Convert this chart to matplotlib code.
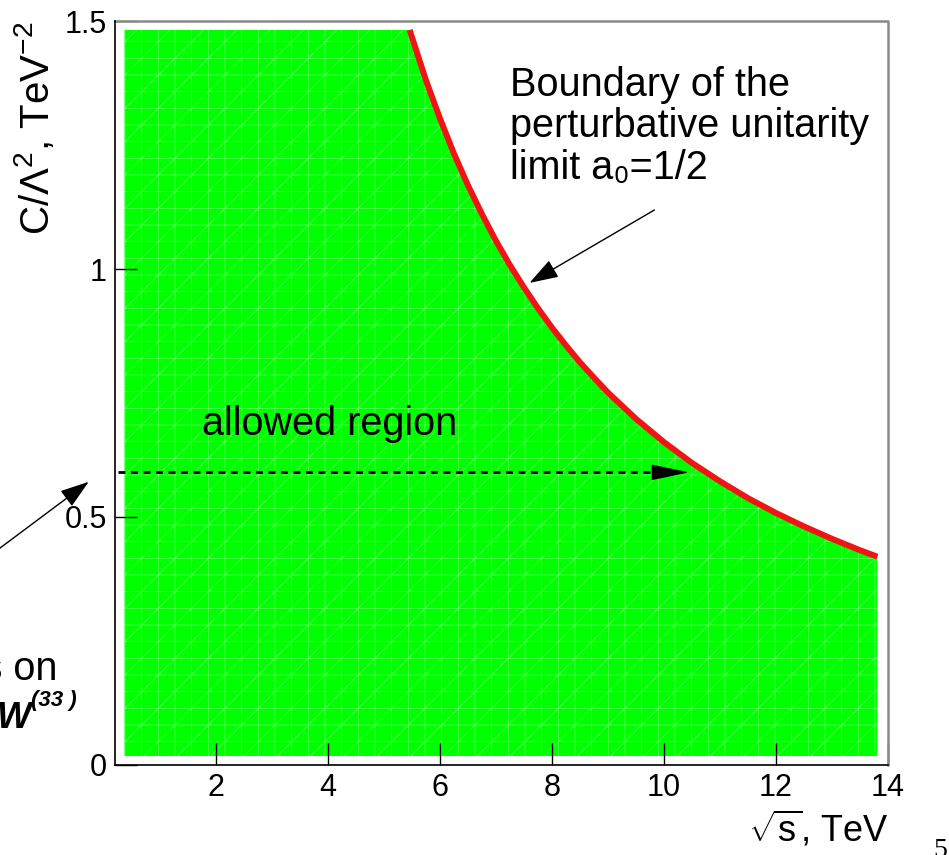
import matplotlib
matplotlib.use("Agg")
import matplotlib.pyplot as plt

plt.rcParams['font.family'] = ['Liberation Sans', 'DejaVu Sans']
plt.rcParams['mathtext.fontset'] = 'custom'
plt.rcParams['mathtext.rm'] = 'Liberation Sans'
plt.rcParams['mathtext.it'] = 'Liberation Sans:italic'
plt.rcParams['mathtext.bf'] = 'Liberation Sans:bold'
plt.rcParams['hatch.linewidth'] = 0.5

# limite de unitariedade perturbativa
sqrt_s = [5.46, 5.75, 6.0, 6.25, 6.5, 6.75, 7.0, 7.25, 7.5, 7.75, 8.0, 8.25,
          8.5, 8.75, 9.0, 9.5, 10.0, 10.5, 11.0, 11.5, 12.0, 12.5, 13.0,
          13.5, 13.81]
c_limite = [1.482, 1.381, 1.304, 1.233, 1.169, 1.111, 1.057, 1.008, 0.963,
            0.921, 0.882, 0.846, 0.812, 0.781, 0.751, 0.698, 0.651, 0.609,
            0.572, 0.538, 0.508, 0.481, 0.456, 0.433, 0.42]

# regiao permitida
x_min_regiao = 0.37
y_min_regiao = 0.018
y_max_regiao = 1.482

# seta tracejada (inicio, base da ponta, ponta)
seta_y = 0.59
seta_x = [0.26, 9.9, 10.45]

x_ticks = [2, 4, 6, 8, 10, 12, 14]
y_ticks = [0, 0.5, 1, 1.5]
y_tick_labels = ['0', '0.5', '1', '1.5']

fig = plt.figure(figsize=(9.49, 8.55), dpi=100)
ax = fig.add_axes([0.1212, 0.1053, 0.8145, 0.8701])

# regiao verde
xs = [x_min_regiao] + sqrt_s
ys = [y_max_regiao] + c_limite
ax.fill_between(xs, y_min_regiao, ys, facecolor='#00ff00', edgecolor='#5cff5c',
                hatch='+/', linewidth=0, zorder=1)
ax.plot(sqrt_s, c_limite, color='#f01414', lw=4.3, solid_capstyle='butt',
        solid_joinstyle='round', zorder=3)

ax.set_xlim(0.2, 14)
ax.set_ylim(0, 1.5)
ax.set_xticks(x_ticks)
ax.set_xticklabels([str(t) for t in x_ticks])
ax.set_yticks(y_ticks)
ax.set_yticklabels(y_tick_labels)
ax.tick_params(direction='in', length=16, width=1, labelsize=22, pad=6, zorder=5)
ax.minorticks_off()
for s in ['left', 'bottom']:
    ax.spines[s].set_linewidth(1.2)
    ax.spines[s].set_zorder(5)
for s in ['top', 'right']:
    ax.spines[s].set_color('#8a8a8a')
    ax.spines[s].set_linestyle((0, (1, 1)))
    ax.spines[s].set_linewidth(1.8)

ax.set_xlabel(r'$\sqrt{\mathrm{s}}$, TeV', fontsize=26, loc='right', labelpad=4)
ax.set_ylabel(r'C/$\Lambda^{2}$, TeV$^{-2}$', fontsize=29, loc='top', labelpad=5)

# textos
ax.text(7.25, 1.41, 'Boundary of the\nperturbative unitarity\nlimit a\u2080=1/2',
        fontsize=28.5, va='top', ha='left', linespacing=1.12, zorder=6)
ax.text(1.75, 0.687, 'allowed region', fontsize=28.5, va='center', ha='left', zorder=6)

ax.annotate('', xy=(7.60, 0.972), xytext=(9.83, 1.119),
            arrowprops=dict(arrowstyle='-|>,head_length=1.8,head_width=0.6',
                            color='black', lw=1, shrinkA=0, shrinkB=0), zorder=6)
ax.annotate('', xy=(-0.27, 0.571), xytext=(-2.0, 0.425), annotation_clip=False,
            arrowprops=dict(arrowstyle='-|>,head_length=1.8,head_width=0.6',
                            color='black', lw=1, shrinkA=0, shrinkB=0), zorder=6)

# linha tracejada + ponta cheia
ax.plot(seta_x[:2], [seta_y, seta_y], color='black', lw=2,
        dashes=(2.5, 2), zorder=6)
ax.annotate('', xy=(seta_x[2], seta_y), xytext=(seta_x[1], seta_y),
            arrowprops=dict(arrowstyle='-|>,head_length=2.4,head_width=0.5',
                            color='black', lw=1, shrinkA=0, shrinkB=0), zorder=6)

# texto cortado na esquerda
fig.text(58 / 949, 1 - 680 / 855, 'Constraints on', fontsize=28.5, ha='right',
         va='baseline')
fig.text(31 / 949, 1 - 728 / 855, 'C W', fontsize=26, ha='right', va='baseline',
         fontweight='bold', style='italic')
fig.text(31 / 949, 1 - 706 / 855, '(33 )', fontsize=16, ha='left', va='baseline',
         fontweight='bold', style='italic')

# numero da pagina
fig.text(933 / 949, 1 - 857 / 855, '5', fontsize=20, ha='left', va='baseline',
         family='Liberation Serif')

fig.savefig('out.png', dpi=100)
